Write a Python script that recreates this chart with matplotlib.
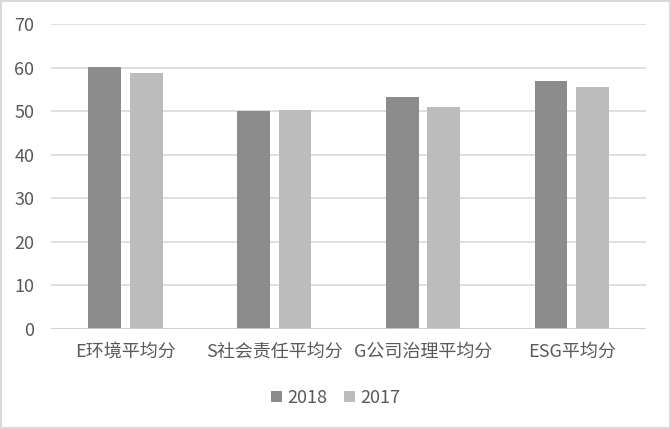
import matplotlib
matplotlib.use("Agg")
import matplotlib.pyplot as plt
import numpy as np

plt.rcParams['font.family'] = ['Noto Sans CJK SC', 'DejaVu Sans']

categories = ["E环境平均分", "S社会责任平均分", "G公司治理平均分", "ESG平均分"]
y_2018 = [60.1, 50.0, 53.2, 56.9]
y_2017 = [58.7, 50.2, 50.9, 55.5]

fig = plt.figure(figsize=(6.71, 4.29), dpi=100)
ax = fig.add_axes([0.076, 0.233, 0.887, 0.711])

x = np.arange(len(categories))
w = 0.22
ax.bar(x - 0.14, y_2018, width=w, color="#8c8c8c", label="2018", zorder=3)
ax.bar(x + 0.14, y_2017, width=w, color="#bcbcbc", label="2017", zorder=3)

ax.set_xlim(-0.5, len(categories) - 0.5)
ax.set_ylim(0, 70)
ax.set_yticks(range(0, 71, 10))
ax.set_xticks(x)
ax.set_xticklabels(categories)
ax.grid(axis="y", color="#d9d9d9", linewidth=1.2, zorder=0)
for s in ax.spines.values():
    s.set_visible(False)
ax.axhline(0, color="#d0d0d0", linewidth=1.2, zorder=4)
ax.tick_params(length=0, labelsize=13, colors="#595959")
ax.tick_params(axis="y", pad=12)
ax.tick_params(axis="x", pad=10)

fig.legend(loc="center", bbox_to_anchor=(0.5, 0.073), ncol=2, frameon=False,
           fontsize=13, labelcolor="#595959", handlelength=0.6, handleheight=0.6,
           columnspacing=0.9, handletextpad=0.3)

fig.patches.append(plt.Rectangle((0.001, 0.002), 0.997, 0.995, transform=fig.transFigure,
                                 fill=False, edgecolor="#d9d9d9", linewidth=1.5))

fig.savefig("out.png", dpi=100)
